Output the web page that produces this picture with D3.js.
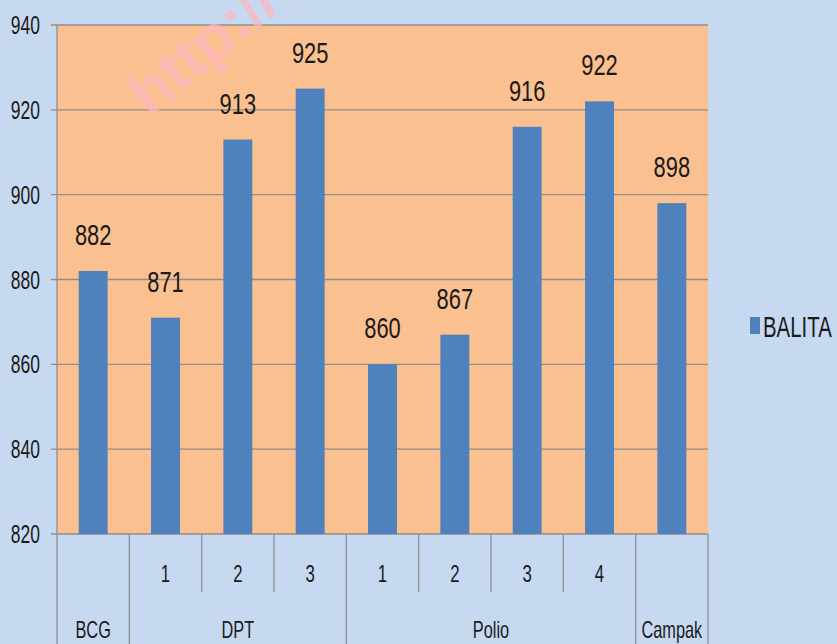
<!DOCTYPE html>
<html>
<head>
<meta charset="utf-8">
<script src="https://cdn.jsdelivr.net/npm/d3@7/dist/d3.min.js"></script>
<style>
  body { margin: 0; background: #c6d9f0; }
  svg { display: block; font-family: "Liberation Sans", Arial, sans-serif; }
</style>
</head>
<body>
<svg width="837" height="644"></svg>
<script>
// data
const groups = ['BCG', 'DPT', 'DPT', 'DPT', 'Polio', 'Polio', 'Polio', 'Polio', 'Campak'];
const doses = ['', '1', '2', '3', '1', '2', '3', '4', ''];
const values = [882, 871, 913, 925, 860, 867, 916, 922, 898];
const yTicks = [820, 840, 860, 880, 900, 920, 940];
const seriesName = 'BALITA';

const svg = d3.select('svg');
const plotLeft = 57, plotRight = 708, plotTop = 25, plotBottom = 534;

const keys = values.map((v, i) => i);
const x = d3.scaleBand().domain(keys).range([plotLeft, plotRight]).paddingInner(0.6).paddingOuter(0.3);
const y = d3.scaleLinear().domain([820, 940]).range([plotBottom, plotTop]);
const step = x.step();

// narrow text, like the condensed font of the original
function addText(parent, px, py, str, size, anchor, sx) {
    return parent.append('text')
        .attr('transform', `translate(${px},${py}) scale(${sx},1)`)
        .attr('text-anchor', anchor)
        .attr('font-size', size + 'px')
        .attr('fill', '#1a1a1a')
        .text(str);
}

svg.append('rect')
    .attr('width', 837).attr('height', 644).attr('fill', '#c6d9f0');

// plot area
svg.append('rect')
    .attr('x', plotLeft).attr('y', plotTop)
    .attr('width', plotRight - plotLeft).attr('height', plotBottom - plotTop)
    .attr('fill', '#fac090');

// grid
svg.append('g').selectAll('line')
    .data(yTicks)
    .enter()
    .append('line')
        .attr('x1', plotLeft - 6).attr('x2', plotRight)
        .attr('y1', d => y(d)).attr('y2', d => y(d))
        .attr('stroke', '#8e8e8e').attr('stroke-width', 1.3);

const yLabels = svg.append('g');
yTicks.forEach(t => addText(yLabels, 40, y(t) + 9, t, 25, 'end', 0.7));

// bars
svg.append('g').selectAll('rect')
    .data(values)
    .enter()
    .append('rect')
        .attr('x', (d, i) => x(i))
        .attr('y', d => y(d))
        .attr('width', x.bandwidth())
        .attr('height', d => plotBottom - y(d))
        .attr('fill', '#4f81bd');

const valueLabels = svg.append('g');
values.forEach((v, i) => addText(valueLabels, x(i) + x.bandwidth() / 2, y(v) - 26, v, 30, 'middle', 0.73));

// category axis (two levels)
const axis = svg.append('g');
axis.append('line')
    .attr('x1', plotLeft).attr('x2', plotLeft)
    .attr('y1', plotTop).attr('y2', 644)
    .attr('stroke', '#8e8e8e').attr('stroke-width', 1.3);

keys.forEach(i => {
    let xr = plotLeft + step * (i + 1);
    let last = i === keys.length - 1;
    let groupEnd = last || groups[i] !== groups[i + 1];
    axis.append('line')
        .attr('x1', xr).attr('x2', xr)
        .attr('y1', plotBottom).attr('y2', groupEnd ? 644 : 592)
        .attr('stroke', '#8e8e8e').attr('stroke-width', 1.3);

    addText(axis, plotLeft + step * (i + 0.5), 582, doses[i], 24, 'middle', 0.7);
});

const groupNames = Array.from(new Set(groups));
groupNames.forEach(g => {
    let idx = keys.filter(i => groups[i] === g);
    let mid = plotLeft + step * (idx[0] + idx[idx.length - 1] + 1) / 2;
    addText(axis, mid, 638, g, 24, 'middle', 0.68);
});

// legend
svg.append('rect')
    .attr('x', 750).attr('y', 317)
    .attr('width', 10).attr('height', 17)
    .attr('fill', '#4f81bd');
addText(svg, 763, 337, seriesName, 30, 'start', 0.68);

// watermark
svg.append('text')
    .attr('transform', 'translate(150,118) rotate(-40)')
    .attr('font-weight', 'bold')
    .attr('font-size', '62px')
    .attr('fill', '#ffb6c1')
    .attr('opacity', 0.7)
    .text('http://www');
</script>
</body>
</html>
